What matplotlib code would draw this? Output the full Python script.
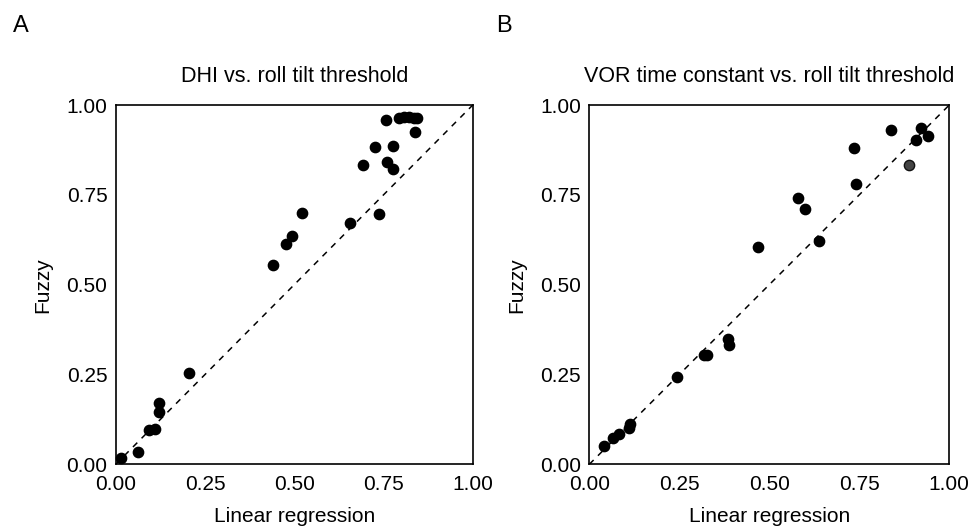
import matplotlib
matplotlib.use("Agg")
import matplotlib.pyplot as plt

plt.rcParams['font.family'] = ['Liberation Sans', 'DejaVu Sans']

# Panel A: DHI vs. roll tilt threshold
a_linear = [0.015, 0.062, 0.092, 0.110, 0.121, 0.122, 0.204, 0.441, 0.476, 0.495,
            0.521, 0.655, 0.737, 0.693, 0.727, 0.777, 0.761, 0.777, 0.756, 0.794,
            0.806, 0.822, 0.835, 0.845, 0.839]
a_fuzzy = [0.017, 0.035, 0.096, 0.098, 0.172, 0.147, 0.255, 0.554, 0.614, 0.635,
           0.699, 0.671, 0.696, 0.832, 0.884, 0.885, 0.842, 0.823, 0.958, 0.963,
           0.968, 0.967, 0.965, 0.963, 0.925]

# Panel B: VOR time constant vs. roll tilt threshold
b_linear = [0.041, 0.065, 0.082, 0.111, 0.113, 0.244, 0.319, 0.328, 0.385, 0.387,
            0.469, 0.580, 0.598, 0.637, 0.734, 0.740, 0.838, 0.907, 0.921, 0.941]
b_fuzzy = [0.052, 0.072, 0.084, 0.102, 0.111, 0.243, 0.305, 0.305, 0.350, 0.332,
           0.604, 0.741, 0.710, 0.621, 0.880, 0.781, 0.931, 0.903, 0.937, 0.915]
b_grey_linear = [0.889]
b_grey_fuzzy = [0.833]

ticks = [0.0, 0.25, 0.5, 0.75, 1.0]
tick_labels = ["0.00", "0.25", "0.50", "0.75", "1.00"]

fig = plt.figure(figsize=(9.75, 5.28), dpi=100)
axA = fig.add_axes([0.1187, 0.1206, 0.3662, 0.6805])
axB = fig.add_axes([0.6044, 0.1206, 0.3692, 0.6805])

def style(ax, title):
    ax.plot([0, 1], [0, 1], linestyle=(0, (4, 4)), color='black', lw=1.1, zorder=1)
    ax.set_xlim(0, 1)
    ax.set_ylim(0, 1)
    ax.set_xticks(ticks)
    ax.set_xticklabels(tick_labels)
    ax.set_yticks(ticks)
    ax.set_yticklabels(tick_labels)
    ax.tick_params(length=0, labelsize=15)
    ax.tick_params(axis='x', pad=8)
    ax.tick_params(axis='y', pad=6)
    for s in ax.spines.values():
        s.set_linewidth(1.2)
    ax.set_xlabel("Linear regression", fontsize=15, labelpad=9)
    ax.set_ylabel("Fuzzy", fontsize=15, labelpad=10)
    ax.set_title(title, fontsize=15.5, pad=16.5)

style(axA, "DHI vs. roll tilt threshold")
axA.scatter(a_linear, a_fuzzy, s=55, color='black', zorder=3, clip_on=False)

style(axB, "VOR time constant vs. roll tilt threshold")
axB.scatter(b_linear, b_fuzzy, s=55, color='black', zorder=3, clip_on=False)
axB.scatter(b_grey_linear, b_grey_fuzzy, s=55, color='#444444', edgecolors='#111111',
            linewidths=1.0, zorder=3)

fig.text(0.013, 0.939, "A", fontsize=17)
fig.text(0.509, 0.939, "B", fontsize=17)

fig.savefig("out.png", dpi=100)
